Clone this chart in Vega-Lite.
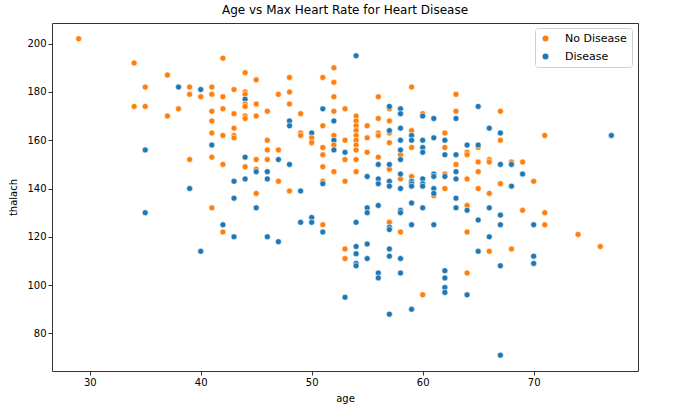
{
  "$schema": "https://vega.github.io/schema/vega-lite/v6.json",
  "autosize": {"type": "none"},
  "width": 586,
  "height": 348,
  "padding": {"left": 52, "top": 23, "right": 42, "bottom": 43},
  "background": "white",
  "title": {"text": "Age vs Max Heart Rate for Heart Disease", "font": "DejaVu Sans", "fontSize": 12, "fontWeight": "normal", "color": "black", "offset": 6},
  "config": {
    "view": {"stroke": "#333", "strokeWidth": 1},
    "axis": {"grid": false, "domain": false, "tickColor": "#333", "tickSize": 4, "labelFont": "DejaVu Sans", "labelFontSize": 10, "labelColor": "black", "titleFont": "DejaVu Sans", "titleFontSize": 10, "titleFontWeight": "normal", "titleColor": "black"}
  },
  "data": {"values": [
    {"age":29,"thalach":202,"status":"No Disease"},
    {"age":34,"thalach":192,"status":"No Disease"},{"age":34,"thalach":174,"status":"No Disease"},
    {"age":35,"thalach":182,"status":"No Disease"},{"age":35,"thalach":174,"status":"No Disease"},{"age":35,"thalach":156,"status":"Disease"},{"age":35,"thalach":130,"status":"Disease"},
    {"age":37,"thalach":187,"status":"No Disease"},{"age":37,"thalach":170,"status":"No Disease"},
    {"age":38,"thalach":182,"status":"Disease"},{"age":38,"thalach":173,"status":"No Disease"},
    {"age":39,"thalach":182,"status":"No Disease"},{"age":39,"thalach":179,"status":"No Disease"},{"age":39,"thalach":152,"status":"No Disease"},{"age":39,"thalach":140,"status":"Disease"},
    {"age":40,"thalach":181,"status":"Disease"},{"age":40,"thalach":178,"status":"No Disease"},{"age":40,"thalach":114,"status":"Disease"},
    {"age":41,"thalach":182,"status":"No Disease"},{"age":41,"thalach":179,"status":"No Disease"},{"age":41,"thalach":172,"status":"No Disease"},{"age":41,"thalach":168,"status":"No Disease"},{"age":41,"thalach":163,"status":"No Disease"},{"age":41,"thalach":158,"status":"Disease"},{"age":41,"thalach":153,"status":"No Disease"},{"age":41,"thalach":132,"status":"No Disease"},
    {"age":42,"thalach":194,"status":"No Disease"},{"age":42,"thalach":178,"status":"No Disease"},{"age":42,"thalach":173,"status":"No Disease"},{"age":42,"thalach":162,"status":"No Disease"},{"age":42,"thalach":150,"status":"No Disease"},{"age":42,"thalach":125,"status":"Disease"},{"age":42,"thalach":122,"status":"No Disease"},
    {"age":43,"thalach":181,"status":"No Disease"},{"age":43,"thalach":171,"status":"No Disease"},{"age":43,"thalach":165,"status":"No Disease"},{"age":43,"thalach":162,"status":"No Disease"},{"age":43,"thalach":161,"status":"No Disease"},{"age":43,"thalach":143,"status":"Disease"},{"age":43,"thalach":136,"status":"Disease"},{"age":43,"thalach":120,"status":"Disease"},
    {"age":44,"thalach":188,"status":"No Disease"},{"age":44,"thalach":180,"status":"No Disease"},{"age":44,"thalach":179,"status":"No Disease"},{"age":44,"thalach":177,"status":"Disease"},{"age":44,"thalach":175,"status":"No Disease"},{"age":44,"thalach":174,"status":"No Disease"},{"age":44,"thalach":170,"status":"No Disease"},{"age":44,"thalach":169,"status":"No Disease"},{"age":44,"thalach":153,"status":"Disease"},{"age":44,"thalach":149,"status":"No Disease"},{"age":44,"thalach":144,"status":"Disease"},
    {"age":45,"thalach":185,"status":"No Disease"},{"age":45,"thalach":175,"status":"No Disease"},{"age":45,"thalach":170,"status":"No Disease"},{"age":45,"thalach":152,"status":"No Disease"},{"age":45,"thalach":148,"status":"No Disease"},{"age":45,"thalach":147,"status":"Disease"},{"age":45,"thalach":138,"status":"No Disease"},{"age":45,"thalach":132,"status":"Disease"},
    {"age":46,"thalach":172,"status":"No Disease"},{"age":46,"thalach":160,"status":"No Disease"},{"age":46,"thalach":156,"status":"No Disease"},{"age":46,"thalach":152,"status":"No Disease"},{"age":46,"thalach":147,"status":"Disease"},{"age":46,"thalach":144,"status":"Disease"},{"age":46,"thalach":120,"status":"Disease"},
    {"age":47,"thalach":179,"status":"No Disease"},{"age":47,"thalach":156,"status":"No Disease"},{"age":47,"thalach":152,"status":"Disease"},{"age":47,"thalach":143,"status":"No Disease"},{"age":47,"thalach":118,"status":"Disease"},
    {"age":48,"thalach":186,"status":"No Disease"},{"age":48,"thalach":180,"status":"No Disease"},{"age":48,"thalach":175,"status":"No Disease"},{"age":48,"thalach":168,"status":"Disease"},{"age":48,"thalach":166,"status":"Disease"},{"age":48,"thalach":150,"status":"Disease"},{"age":48,"thalach":139,"status":"No Disease"},
    {"age":49,"thalach":171,"status":"No Disease"},{"age":49,"thalach":163,"status":"No Disease"},{"age":49,"thalach":162,"status":"No Disease"},{"age":49,"thalach":139,"status":"Disease"},{"age":49,"thalach":126,"status":"Disease"},
    {"age":50,"thalach":163,"status":"Disease"},{"age":50,"thalach":161,"status":"No Disease"},{"age":50,"thalach":159,"status":"No Disease"},{"age":50,"thalach":128,"status":"Disease"},{"age":50,"thalach":126,"status":"Disease"},
    {"age":51,"thalach":186,"status":"No Disease"},{"age":51,"thalach":173,"status":"Disease"},{"age":51,"thalach":166,"status":"No Disease"},{"age":51,"thalach":157,"status":"No Disease"},{"age":51,"thalach":154,"status":"No Disease"},{"age":51,"thalach":149,"status":"No Disease"},{"age":51,"thalach":143,"status":"No Disease"},{"age":51,"thalach":142,"status":"Disease"},{"age":51,"thalach":125,"status":"No Disease"},{"age":51,"thalach":122,"status":"Disease"},
    {"age":52,"thalach":190,"status":"No Disease"},{"age":52,"thalach":184,"status":"No Disease"},{"age":52,"thalach":178,"status":"No Disease"},{"age":52,"thalach":172,"status":"No Disease"},{"age":52,"thalach":168,"status":"Disease"},{"age":52,"thalach":162,"status":"No Disease"},{"age":52,"thalach":160,"status":"Disease"},{"age":52,"thalach":158,"status":"No Disease"},{"age":52,"thalach":156,"status":"Disease"},{"age":52,"thalach":147,"status":"No Disease"},
    {"age":53,"thalach":173,"status":"No Disease"},{"age":53,"thalach":160,"status":"No Disease"},{"age":53,"thalach":155,"status":"Disease"},{"age":53,"thalach":152,"status":"No Disease"},{"age":53,"thalach":143,"status":"No Disease"},{"age":53,"thalach":115,"status":"No Disease"},{"age":53,"thalach":111,"status":"No Disease"},{"age":53,"thalach":95,"status":"Disease"},
    {"age":54,"thalach":195,"status":"Disease"},{"age":54,"thalach":170,"status":"No Disease"},{"age":54,"thalach":168,"status":"No Disease"},{"age":54,"thalach":166,"status":"No Disease"},{"age":54,"thalach":164,"status":"No Disease"},{"age":54,"thalach":162,"status":"No Disease"},{"age":54,"thalach":160,"status":"No Disease"},{"age":54,"thalach":158,"status":"No Disease"},{"age":54,"thalach":156,"status":"No Disease"},{"age":54,"thalach":152,"status":"No Disease"},{"age":54,"thalach":147,"status":"No Disease"},{"age":54,"thalach":126,"status":"Disease"},{"age":54,"thalach":116,"status":"Disease"},{"age":54,"thalach":113,"status":"Disease"},{"age":54,"thalach":109,"status":"Disease"},{"age":54,"thalach":108,"status":"Disease"},
    {"age":55,"thalach":166,"status":"No Disease"},{"age":55,"thalach":161,"status":"No Disease"},{"age":55,"thalach":155,"status":"No Disease"},{"age":55,"thalach":145,"status":"Disease"},{"age":55,"thalach":132,"status":"Disease"},{"age":55,"thalach":130,"status":"Disease"},{"age":55,"thalach":117,"status":"Disease"},{"age":55,"thalach":111,"status":"Disease"},
    {"age":56,"thalach":178,"status":"No Disease"},{"age":56,"thalach":169,"status":"No Disease"},{"age":56,"thalach":163,"status":"No Disease"},{"age":56,"thalach":162,"status":"No Disease"},{"age":56,"thalach":153,"status":"No Disease"},{"age":56,"thalach":150,"status":"Disease"},{"age":56,"thalach":144,"status":"Disease"},{"age":56,"thalach":142,"status":"Disease"},{"age":56,"thalach":133,"status":"Disease"},{"age":56,"thalach":105,"status":"Disease"},{"age":56,"thalach":103,"status":"Disease"},
    {"age":57,"thalach":173,"status":"No Disease"},{"age":57,"thalach":174,"status":"Disease"},{"age":57,"thalach":168,"status":"No Disease"},{"age":57,"thalach":163,"status":"No Disease"},{"age":57,"thalach":164,"status":"Disease"},{"age":57,"thalach":159,"status":"No Disease"},{"age":57,"thalach":148,"status":"No Disease"},{"age":57,"thalach":150,"status":"Disease"},{"age":57,"thalach":143,"status":"Disease"},{"age":57,"thalach":141,"status":"Disease"},{"age":57,"thalach":126,"status":"No Disease"},{"age":57,"thalach":124,"status":"Disease"},{"age":57,"thalach":123,"status":"Disease"},{"age":57,"thalach":115,"status":"Disease"},{"age":57,"thalach":112,"status":"Disease"},{"age":57,"thalach":88,"status":"Disease"},
    {"age":58,"thalach":173,"status":"Disease"},{"age":58,"thalach":171,"status":"Disease"},{"age":58,"thalach":165,"status":"Disease"},{"age":58,"thalach":160,"status":"Disease"},{"age":58,"thalach":154,"status":"No Disease"},{"age":58,"thalach":156,"status":"Disease"},{"age":58,"thalach":152,"status":"Disease"},{"age":58,"thalach":144,"status":"No Disease"},{"age":58,"thalach":146,"status":"Disease"},{"age":58,"thalach":140,"status":"Disease"},{"age":58,"thalach":131,"status":"Disease"},{"age":58,"thalach":130,"status":"Disease"},{"age":58,"thalach":122,"status":"No Disease"},{"age":58,"thalach":111,"status":"Disease"},{"age":58,"thalach":105,"status":"Disease"},
    {"age":59,"thalach":182,"status":"No Disease"},{"age":59,"thalach":164,"status":"No Disease"},{"age":59,"thalach":162,"status":"Disease"},{"age":59,"thalach":160,"status":"Disease"},{"age":59,"thalach":157,"status":"No Disease"},{"age":59,"thalach":145,"status":"No Disease"},{"age":59,"thalach":143,"status":"Disease"},{"age":59,"thalach":142,"status":"Disease"},{"age":59,"thalach":141,"status":"Disease"},{"age":59,"thalach":134,"status":"Disease"},{"age":59,"thalach":125,"status":"Disease"},{"age":59,"thalach":90,"status":"Disease"},
    {"age":60,"thalach":171,"status":"No Disease"},{"age":60,"thalach":170,"status":"Disease"},{"age":60,"thalach":160,"status":"Disease"},{"age":60,"thalach":157,"status":"Disease"},{"age":60,"thalach":155,"status":"Disease"},{"age":60,"thalach":144,"status":"Disease"},{"age":60,"thalach":142,"status":"Disease"},{"age":60,"thalach":141,"status":"Disease"},{"age":60,"thalach":132,"status":"Disease"},{"age":60,"thalach":96,"status":"No Disease"},
    {"age":61,"thalach":169,"status":"Disease"},{"age":61,"thalach":161,"status":"Disease"},{"age":61,"thalach":146,"status":"Disease"},{"age":61,"thalach":145,"status":"Disease"},{"age":61,"thalach":140,"status":"Disease"},{"age":61,"thalach":137,"status":"No Disease"},{"age":61,"thalach":138,"status":"Disease"},{"age":61,"thalach":125,"status":"Disease"},
    {"age":62,"thalach":163,"status":"No Disease"},{"age":62,"thalach":160,"status":"Disease"},{"age":62,"thalach":157,"status":"No Disease"},{"age":62,"thalach":154,"status":"Disease"},{"age":62,"thalach":146,"status":"No Disease"},{"age":62,"thalach":145,"status":"Disease"},{"age":62,"thalach":140,"status":"No Disease"},{"age":62,"thalach":106,"status":"Disease"},{"age":62,"thalach":103,"status":"Disease"},{"age":62,"thalach":99,"status":"Disease"},{"age":62,"thalach":97,"status":"Disease"},
    {"age":63,"thalach":179,"status":"No Disease"},{"age":63,"thalach":172,"status":"No Disease"},{"age":63,"thalach":169,"status":"Disease"},{"age":63,"thalach":154,"status":"Disease"},{"age":63,"thalach":150,"status":"No Disease"},{"age":63,"thalach":147,"status":"Disease"},{"age":63,"thalach":144,"status":"Disease"},{"age":63,"thalach":136,"status":"Disease"},{"age":63,"thalach":132,"status":"Disease"},
    {"age":64,"thalach":158,"status":"Disease"},{"age":64,"thalach":155,"status":"No Disease"},{"age":64,"thalach":154,"status":"No Disease"},{"age":64,"thalach":144,"status":"No Disease"},{"age":64,"thalach":133,"status":"No Disease"},{"age":64,"thalach":131,"status":"Disease"},{"age":64,"thalach":122,"status":"No Disease"},{"age":64,"thalach":105,"status":"No Disease"},{"age":64,"thalach":96,"status":"Disease"},
    {"age":65,"thalach":174,"status":"Disease"},{"age":65,"thalach":157,"status":"No Disease"},{"age":65,"thalach":158,"status":"Disease"},{"age":65,"thalach":151,"status":"No Disease"},{"age":65,"thalach":147,"status":"No Disease"},{"age":65,"thalach":140,"status":"No Disease"},{"age":65,"thalach":127,"status":"Disease"},{"age":65,"thalach":114,"status":"Disease"},
    {"age":66,"thalach":165,"status":"Disease"},{"age":66,"thalach":152,"status":"No Disease"},{"age":66,"thalach":151,"status":"No Disease"},{"age":66,"thalach":138,"status":"No Disease"},{"age":66,"thalach":132,"status":"Disease"},{"age":66,"thalach":120,"status":"Disease"},{"age":66,"thalach":114,"status":"No Disease"},
    {"age":67,"thalach":172,"status":"No Disease"},{"age":67,"thalach":163,"status":"Disease"},{"age":67,"thalach":160,"status":"No Disease"},{"age":67,"thalach":150,"status":"Disease"},{"age":67,"thalach":142,"status":"No Disease"},{"age":67,"thalach":129,"status":"Disease"},{"age":67,"thalach":125,"status":"Disease"},{"age":67,"thalach":108,"status":"Disease"},{"age":67,"thalach":71,"status":"Disease"},
    {"age":68,"thalach":151,"status":"No Disease"},{"age":68,"thalach":150,"status":"Disease"},{"age":68,"thalach":141,"status":"Disease"},{"age":68,"thalach":115,"status":"No Disease"},
    {"age":69,"thalach":151,"status":"No Disease"},{"age":69,"thalach":146,"status":"Disease"},{"age":69,"thalach":131,"status":"No Disease"},
    {"age":70,"thalach":143,"status":"No Disease"},{"age":70,"thalach":125,"status":"Disease"},{"age":70,"thalach":112,"status":"Disease"},{"age":70,"thalach":109,"status":"Disease"},
    {"age":71,"thalach":162,"status":"No Disease"},{"age":71,"thalach":130,"status":"No Disease"},{"age":71,"thalach":125,"status":"No Disease"},
    {"age":74,"thalach":121,"status":"No Disease"},
    {"age":76,"thalach":116,"status":"No Disease"},
    {"age":77,"thalach":162,"status":"Disease"}
  ]},
  "mark": {"type": "point", "filled": true, "opacity": 1, "size": 36, "stroke": "white", "strokeWidth": 0.6},
  "encoding": {
    "x": {"field": "age", "type": "quantitative", "title": "age", "scale": {"domain": [26.6, 79.4], "nice": false, "zero": false}, "axis": {"values": [30, 40, 50, 60, 70], "titlePadding": 6}},
    "y": {"field": "thalach", "type": "quantitative", "title": "thalach", "scale": {"domain": [64.45, 208.55], "nice": false, "zero": false}, "axis": {"values": [80, 100, 120, 140, 160, 180, 200], "titlePadding": 8}},
    "color": {"field": "status", "type": "nominal", "scale": {"domain": ["No Disease", "Disease"], "range": ["#ff7f0e", "#1f77b4"]},
      "legend": {"title": null, "orient": "none", "legendX": 483, "legendY": 5, "padding": 5, "fillColor": "white", "strokeColor": "#d0d0d0", "cornerRadius": 3, "labelFont": "DejaVu Sans", "labelFontSize": 11, "labelColor": "black", "symbolSize": 36, "symbolStrokeWidth": 0, "rowPadding": 6, "labelOffset": 14}}
  }
}
